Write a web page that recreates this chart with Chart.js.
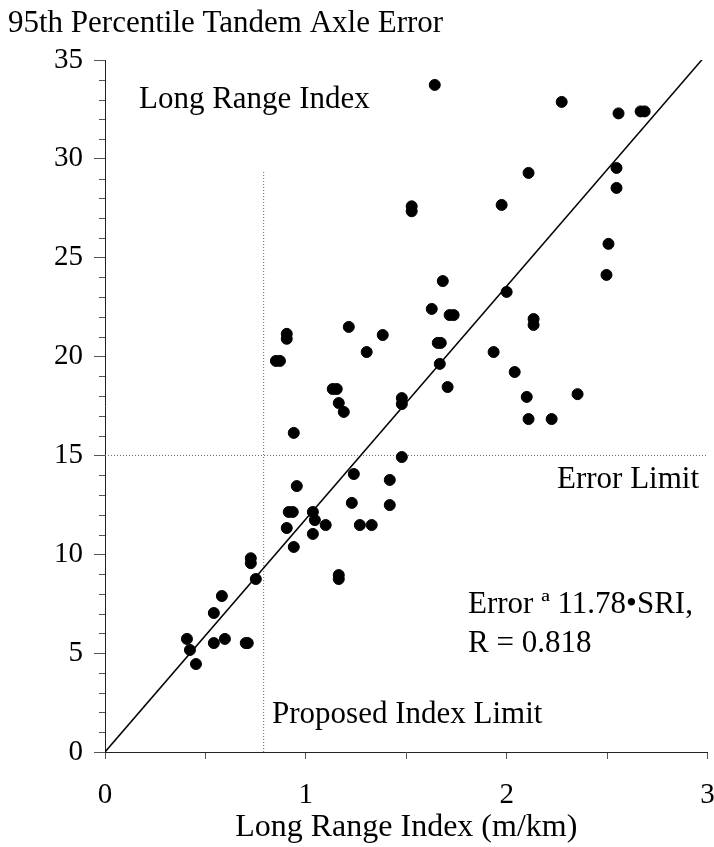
<!DOCTYPE html>
<html>
<head>
<meta charset="utf-8">
<script src="https://cdn.jsdelivr.net/npm/chart.js@4"></script>
<style>
  html, body { margin: 0; padding: 0; background: #fff; }
  #wrap { width: 714px; height: 847px; }
</style>
</head>
<body>
<div id="wrap"><canvas id="chart"></canvas></div>
<script>
// long range index (m/km) for each section
const indexValues = [
  1.642, 2.274, 2.557, 2.667, 2.687, 2.547, 2.547, 2.109, 1.975, 1.527, 1.527,
  2.507, 2.497, 1.682, 2.0, 1.627, 1.716, 1.736, 2.134, 2.134, 1.657, 1.672,
  1.935, 1.667, 1.706, 2.04, 2.1, 2.353, 2.109, 2.224, 1.478, 1.478, 1.478,
  1.214, 0.905, 0.905, 1.383, 1.303, 0.851, 0.871, 1.134, 1.154, 1.164, 1.189,
  0.94, 1.239, 1.418, 0.955, 0.915, 0.935, 1.035, 1.229, 1.418, 1.045, 0.905,
  1.099, 1.269, 1.328, 1.035, 0.94, 0.726, 0.726, 0.751, 1.164, 1.164, 0.582,
  0.542, 0.408, 0.542, 0.597, 0.701, 0.711, 0.423, 0.453
];
// 95th percentile tandem axle error
const errorValues = [
  33.74, 32.88, 32.3, 32.4, 32.4, 29.54, 28.53, 29.29, 27.67, 27.35, 27.6,
  25.7, 24.13, 23.82, 23.27, 22.41, 22.1, 22.1, 21.6, 21.9, 20.69, 20.69,
  20.23, 19.63, 18.46, 19.22, 17.96, 18.1, 16.84, 16.84, 17.6, 17.9, 14.92,
  21.5, 20.9, 21.15, 21.09, 20.23, 19.78, 19.78, 18.36, 18.36, 17.65, 17.2,
  16.14, 14.06, 13.76, 13.45, 12.14, 12.14, 12.14, 12.6, 12.49, 11.73, 11.33,
  11.48, 11.48, 11.48, 11.03, 10.37, 9.55, 9.8, 8.75, 8.75, 8.95, 7.89,
  7.03, 5.72, 5.51, 5.72, 5.51, 5.51, 5.16, 4.45
];
// regression line: Error = 11.78 * SRI
const fitX = [0, 3];
const fitY = [0, 35.34];
// limits
const indexLimitX = [0.79, 0.79];
const indexLimitY = [0, 29.4];
const errorLimitX = [0, 3];
const errorLimitY = [15, 15];
const xTickLabels = ['0', '1', '2', '3'];
const yTickLabels = ['0', '5', '10', '15', '20', '25', '30', '35'];

const serif = '"Liberation Serif", "Times New Roman", serif';

function pairs(xs, ys) {
  return xs.map((x, i) => ({ x: x, y: ys[i] }));
}

// minor ticks on the y axis, plus the text notes
const notes = {
  id: 'notes',
  afterDraw(chart) {
    const c = chart.ctx;
    const y = chart.scales.y;
    const left = chart.chartArea.left;
    c.save();
    c.strokeStyle = '#555';
    c.lineWidth = 1;
    for (let v = 0; v <= 35; v++) {
      if (v % 5 === 0) continue;
      const py = Math.round(y.getPixelForValue(v)) + 0.5;
      c.beginPath();
      c.moveTo(left - 6, py);
      c.lineTo(left, py);
      c.stroke();
    }
    c.fillStyle = '#000';
    c.textBaseline = 'alphabetic';
    c.textAlign = 'left';
    c.font = '31px ' + serif;
    c.fillText('95th Percentile Tandem Axle Error', 8, 32);
    c.fillText('Long Range Index', 139, 108);
    c.fillText('Error Limit', 557, 488);
    c.fillText('Error \u00aa 11.78\u2022SRI,', 468, 613);
    c.fillText('R = 0.818', 468, 652);
    c.fillText('Proposed Index Limit', 272, 723);
    c.restore();
  }
};

new Chart(document.getElementById('chart'), {
  type: 'scatter',
  data: {
    datasets: [
      {
        label: 'Sections',
        data: pairs(indexValues, errorValues),
        backgroundColor: '#000',
        borderColor: '#000',
        pointRadius: 5.5,
        pointHoverRadius: 5.5
      },
      {
        label: 'Fit',
        type: 'line',
        data: pairs(fitX, fitY),
        borderColor: '#000',
        borderWidth: 1.5,
        pointRadius: 0,
        fill: false
      },
      {
        label: 'Proposed Index Limit',
        type: 'line',
        data: pairs(indexLimitX, indexLimitY),
        borderColor: '#666',
        borderWidth: 1,
        borderDash: [1, 2],
        pointRadius: 0,
        fill: false
      },
      {
        label: 'Error Limit',
        type: 'line',
        data: pairs(errorLimitX, errorLimitY),
        borderColor: '#666',
        borderWidth: 1,
        borderDash: [1, 2],
        pointRadius: 0,
        fill: false
      }
    ]
  },
  options: {
    responsive: true,
    maintainAspectRatio: false,
    animation: false,
    layout: { padding: { top: 60, right: 6, left: 0, bottom: 0 } },
    plugins: {
      legend: { display: false },
      tooltip: { enabled: false }
    },
    scales: {
      x: {
        type: 'linear',
        min: 0,
        max: 3,
        afterFit: s => { s.height = 95; s.paddingRight = 0; s.paddingLeft = 0; },
        border: { display: true, color: '#222', width: 1 },
        grid: { drawOnChartArea: false, tickLength: 7, color: '#555' },
        ticks: {
          stepSize: 0.5,
          autoSkip: false,
          maxRotation: 0,
          padding: 19,
          color: '#000',
          font: { family: serif, size: 29 },
          callback: v => (Number.isInteger(v) ? xTickLabels[v] : '')
        },
        title: {
          display: true,
          text: 'Long Range Index (m/km)',
          color: '#000',
          font: { family: serif, size: 32 },
          padding: { top: 0, bottom: 0 }
        }
      },
      y: {
        type: 'linear',
        min: 0,
        max: 35,
        afterFit: s => { s.width = 105; s.paddingTop = 0; s.paddingBottom = 0; },
        border: { display: true, color: '#222', width: 1 },
        grid: { drawOnChartArea: false, tickLength: 11, color: '#555' },
        ticks: {
          stepSize: 5,
          autoSkip: false,
          padding: 11,
          color: '#000',
          font: { family: serif, size: 29 },
          callback: v => yTickLabels[v / 5]
        }
      }
    }
  },
  plugins: [notes]
});
</script>
</body>
</html>
